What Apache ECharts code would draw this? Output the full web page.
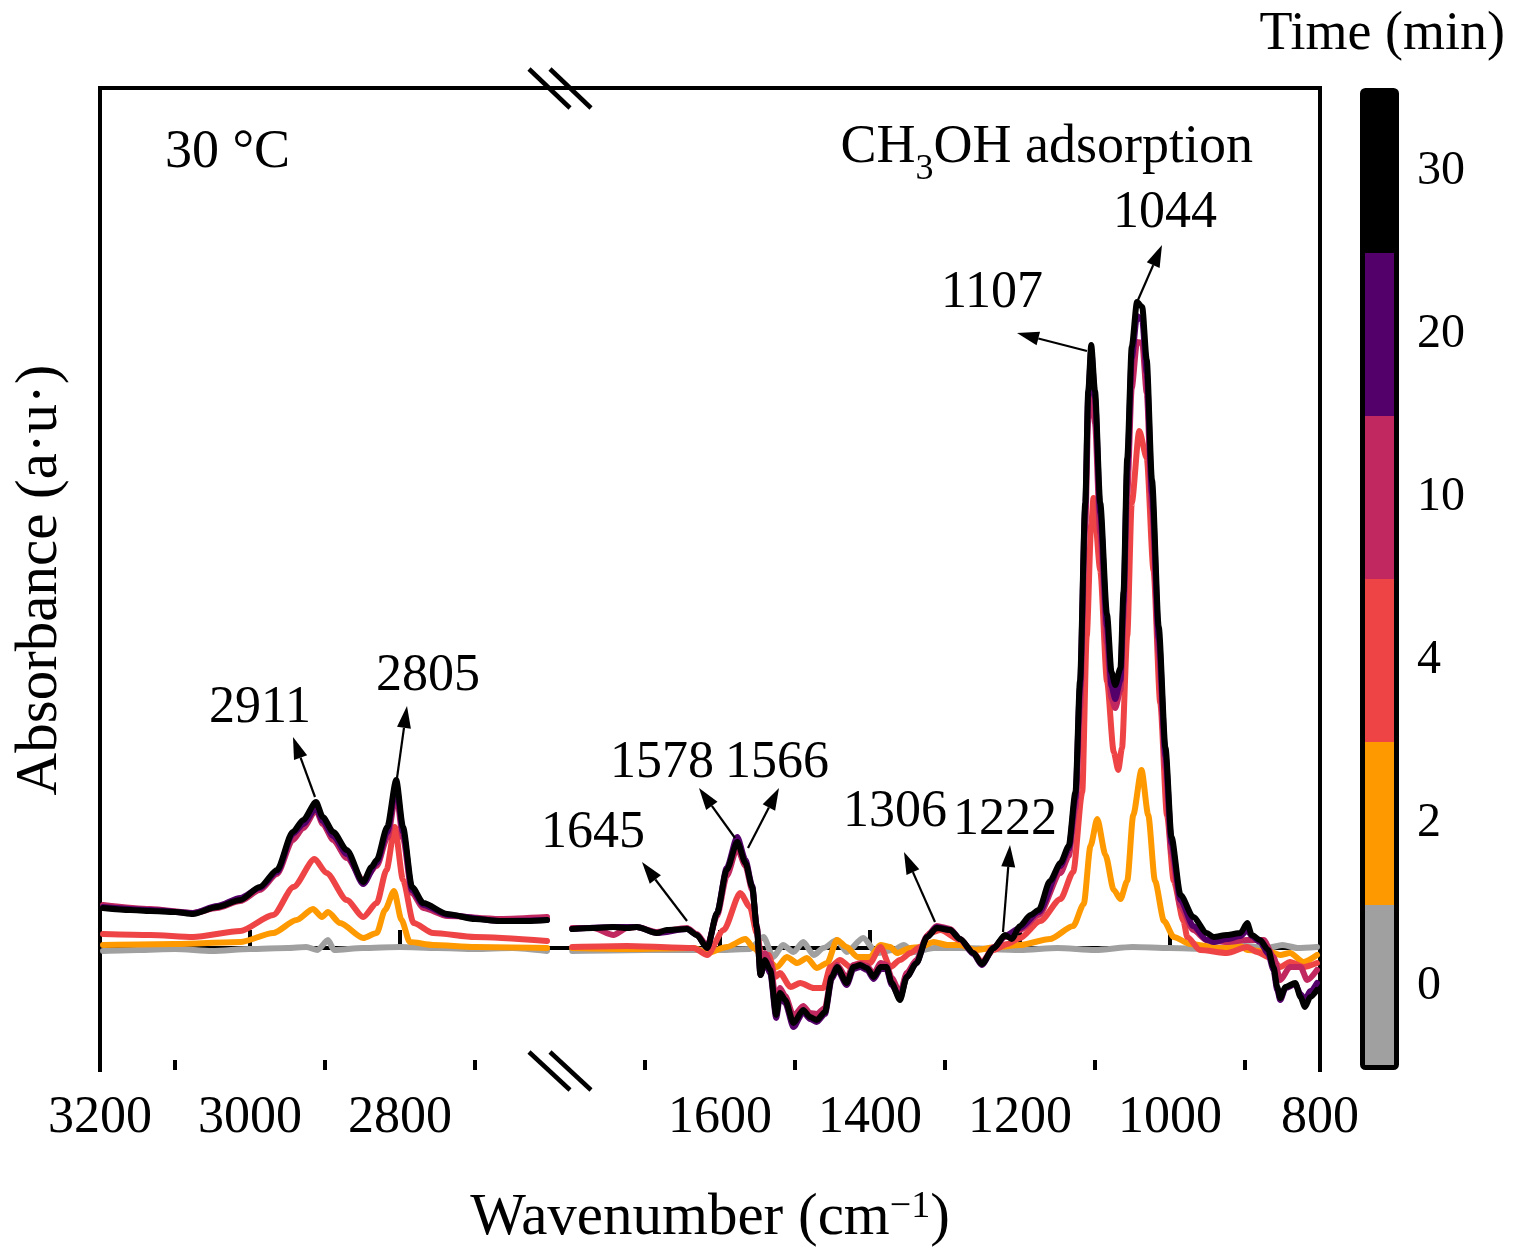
<!DOCTYPE html>
<html>
<head>
<meta charset="utf-8">
<script src="https://cdn.jsdelivr.net/npm/echarts@6/dist/echarts.min.js"></script>
<style>
  html, body { margin: 0; padding: 0; background: #fff; }
  #main { width: 1515px; height: 1257px; }
</style>
</head>
<body>
<div id="main"></div>
<script>
var chart = echarts.init(document.getElementById('main'));

// time steps (min) and their colours
var times = ['0', '2', '4', '10', '20', '30'];
var colors = ['#A0A0A0', '#FF9900', '#EE4446', '#C0285F', '#53006A', '#000000'];

// axis ticks
var leftMajor = [3200, 3000, 2800];
var leftMinor = [3100, 2900, 2700];
var rightMajor = [1600, 1400, 1200, 1000, 800];
var rightMinor = [1700, 1500, 1300, 1100, 900];

// spectra, high wavenumber part [cm-1, absorbance]
var hi0 = [[3196,-0.003],[3150,-0.002],[3100,-0.001],[3050,-0.003],[3000,-0.001],[2950,0],[2925,0.001],[2910,-0.002],[2896,0.008],[2888,-0.002],[2850,0],[2800,0.001],[2750,0],[2700,-0.001],[2650,0],[2604,-0.003]];
var hi2 = [[3196,0.003],[3100,0.004],[3013,0.006],[2969,0.015],[2938,0.028],[2916,0.039],[2904,0.031],[2896,0.036],[2880,0.025],[2849,0.010],[2831,0.015],[2820,0.038],[2808,0.057],[2798,0.028],[2787,0.006],[2756,0.003],[2700,0.001],[2604,0]];
var hi4 = [[3196,0.014],[3133,0.013],[3076,0.011],[3013,0.017],[2969,0.033],[2942,0.061],[2914,0.089],[2898,0.075],[2871,0.048],[2849,0.031],[2831,0.045],[2818,0.078],[2807,0.121],[2796,0.068],[2782,0.025],[2756,0.015],[2700,0.011],[2604,0.007]];
var hi10 = [[3196,0.043],[3133,0.039],[3076,0.035],[3044,0.040],[3013,0.047],[2987,0.058],[2964,0.074],[2943,0.108],[2929,0.120],[2912,0.138],[2903,0.124],[2889,0.108],[2871,0.090],[2849,0.068],[2831,0.082],[2817,0.110],[2805,0.155],[2796,0.110],[2784,0.055],[2769,0.040],[2737,0.032],[2667,0.029],[2604,0.031]];
var hi20 = [[3196,0.041],[3133,0.038],[3076,0.035],[3044,0.042],[3013,0.050],[2987,0.060],[2964,0.076],[2943,0.114],[2929,0.124],[2912,0.140],[2903,0.127],[2889,0.112],[2871,0.094],[2849,0.064],[2831,0.085],[2817,0.116],[2805,0.162],[2796,0.116],[2784,0.058],[2769,0.043],[2737,0.033],[2667,0.027],[2604,0.028]];
var hi30 = [[3196,0.040],[3160,0.038],[3133,0.037],[3100,0.036],[3076,0.034],[3044,0.041],[3013,0.048],[2987,0.061],[2964,0.078],[2943,0.116],[2929,0.128],[2912,0.146],[2903,0.131],[2889,0.116],[2871,0.098],[2849,0.066],[2838,0.081],[2831,0.088],[2817,0.121],[2805,0.168],[2796,0.121],[2784,0.061],[2769,0.045],[2737,0.034],[2700,0.029],[2667,0.027],[2630,0.027],[2604,0.028]];

// spectra, low wavenumber part [cm-1, absorbance]
var lo0 = [[1797,-0.003],[1700,-0.002],[1600,-0.002],[1560,-0.001],[1542,0.011],[1529,-0.009],[1516,0.003],[1502,-0.004],[1489,0.006],[1475,-0.007],[1462,0],[1444,0.008],[1431,-0.004],[1409,0.010],[1391,-0.005],[1369,-0.002],[1355,0.003],[1342,-0.004],[1315,0],[1280,0],[1200,-0.002],[1150,0],[1100,-0.002],[1050,0.001],[1000,0],[950,-0.001],[900,0.002],[870,0],[850,0.003],[830,0],[804,0.001]];
var lo2 = [[1797,0],[1724,-0.001],[1635,0],[1617,-0.005],[1591,0.001],[1566,0.009],[1555,0],[1542,-0.009],[1524,-0.019],[1511,-0.009],[1497,-0.015],[1484,-0.010],[1471,-0.020],[1457,-0.015],[1444,0.008],[1431,0.001],[1417,-0.009],[1400,-0.009],[1386,0.003],[1373,0.001],[1364,-0.005],[1346,0],[1333,0.001],[1315,0.006],[1297,0.003],[1280,0.003],[1260,-0.002],[1230,0.001],[1200,0.003],[1160,0.009],[1129,0.022],[1115,0.044],[1106,0.102],[1097,0.129],[1086,0.093],[1075,0.058],[1066,0.049],[1057,0.067],[1049,0.133],[1038,0.178],[1029,0.133],[1020,0.067],[1008,0.027],[995,0.011],[973,0.004],[933,0],[906,0.002],[897,-0.002],[866,-0.004],[853,-0.007],[840,-0.005],[822,-0.014],[804,-0.007]];
var lo4 = [[1797,0.001],[1724,0.002],[1635,0],[1617,-0.007],[1595,0.018],[1573,0.055],[1560,0.041],[1551,0.015],[1544,-0.012],[1535,-0.007],[1526,-0.029],[1520,-0.025],[1506,-0.039],[1493,-0.035],[1475,-0.040],[1462,-0.040],[1453,-0.019],[1440,-0.012],[1426,-0.019],[1413,-0.015],[1400,-0.015],[1386,0.001],[1373,-0.019],[1360,-0.012],[1346,-0.005],[1333,0.001],[1320,0.015],[1306,0.018],[1280,0.008],[1262,-0.005],[1251,-0.014],[1235,-0.002],[1217,0.004],[1200,0.010],[1173,0.027],[1146,0.049],[1129,0.076],[1117,0.156],[1111,0.312],[1105,0.423],[1102,0.450],[1093,0.378],[1084,0.267],[1075,0.196],[1069,0.178],[1064,0.200],[1057,0.312],[1051,0.445],[1041,0.517],[1031,0.490],[1022,0.378],[1013,0.245],[1004,0.133],[995,0.067],[982,0.027],[977,0.011],[960,-0.002],[924,-0.005],[897,0.001],[884,-0.004],[866,-0.010],[853,-0.019],[840,-0.014],[822,-0.019],[804,-0.015]];
var lo10 = [[1797,0.020],[1769,0.020],[1742,0.013],[1724,0.020],[1711,0.021],[1684,0.016],[1644,0.020],[1631,0.014],[1617,0.002],[1604,0.032],[1591,0.072],[1577,0.100],[1566,0.082],[1557,0.058],[1551,0.022],[1546,-0.018],[1540,-0.005],[1533,-0.015],[1525,-0.055],[1520,-0.040],[1513,-0.048],[1502,-0.068],[1489,-0.058],[1480,-0.065],[1471,-0.066],[1460,-0.060],[1451,-0.027],[1444,-0.017],[1431,-0.030],[1422,-0.017],[1413,-0.016],[1404,-0.018],[1395,-0.026],[1386,-0.015],[1378,-0.017],[1371,-0.030],[1360,-0.045],[1351,-0.025],[1338,-0.012],[1324,0.012],[1311,0.022],[1293,0.019],[1280,0.009],[1262,-0.005],[1251,-0.015],[1235,0.001],[1220,0.011],[1200,0.018],[1175,0.033],[1146,0.075],[1135,0.092],[1126,0.140],[1120,0.240],[1113,0.420],[1109,0.530],[1105,0.570],[1100,0.525],[1093,0.415],[1084,0.305],[1078,0.250],[1073,0.240],[1066,0.258],[1062,0.330],[1057,0.455],[1051,0.560],[1044,0.606],[1037,0.605],[1031,0.555],[1024,0.440],[1015,0.295],[1006,0.180],[998,0.095],[986,0.042],[969,0.018],[951,0.008],[924,0.006],[897,0.008],[875,0.008],[862,-0.009],[853,-0.032],[840,-0.019],[826,-0.019],[817,-0.032],[804,-0.022]];
var lo20 = [[1797,0.019],[1742,0.021],[1711,0.021],[1684,0.015],[1644,0.019],[1631,0.013],[1617,0],[1604,0.035],[1591,0.080],[1577,0.111],[1566,0.088],[1557,0.062],[1551,0.021],[1546,-0.027],[1540,-0.014],[1533,-0.025],[1525,-0.070],[1520,-0.048],[1513,-0.055],[1502,-0.079],[1489,-0.064],[1480,-0.071],[1471,-0.074],[1460,-0.066],[1451,-0.031],[1444,-0.021],[1431,-0.037],[1422,-0.021],[1413,-0.019],[1404,-0.022],[1395,-0.031],[1386,-0.021],[1378,-0.021],[1371,-0.037],[1360,-0.050],[1351,-0.029],[1338,-0.015],[1324,0.011],[1311,0.021],[1293,0.018],[1280,0.009],[1262,-0.006],[1251,-0.017],[1235,0],[1220,0.012],[1200,0.020],[1175,0.036],[1146,0.082],[1135,0.099],[1126,0.150],[1120,0.260],[1113,0.440],[1109,0.552],[1105,0.598],[1100,0.550],[1093,0.435],[1084,0.322],[1078,0.262],[1073,0.249],[1066,0.268],[1062,0.345],[1057,0.478],[1051,0.590],[1044,0.632],[1037,0.628],[1031,0.575],[1024,0.455],[1015,0.310],[1006,0.192],[998,0.105],[986,0.048],[969,0.022],[951,0.008],[942,0.006],[924,0.009],[906,0.012],[897,0.018],[891,0.012],[880,0.006],[869,-0.006],[862,-0.022],[857,-0.042],[853,-0.052],[846,-0.040],[833,-0.036],[826,-0.046],[820,-0.052],[813,-0.043],[804,-0.035]];
var lo30 = [[1797,0.019],[1769,0.020],[1742,0.021],[1724,0.020],[1711,0.021],[1684,0.015],[1671,0.018],[1644,0.019],[1631,0.013],[1617,0],[1604,0.035],[1591,0.078],[1577,0.106],[1566,0.085],[1557,0.061],[1551,0.021],[1546,-0.027],[1540,-0.012],[1533,-0.022],[1525,-0.067],[1520,-0.045],[1513,-0.052],[1502,-0.075],[1489,-0.062],[1480,-0.069],[1471,-0.072],[1460,-0.064],[1451,-0.029],[1444,-0.019],[1431,-0.035],[1422,-0.019],[1413,-0.017],[1404,-0.020],[1395,-0.029],[1386,-0.019],[1378,-0.019],[1371,-0.035],[1360,-0.052],[1351,-0.029],[1338,-0.015],[1324,0.011],[1311,0.020],[1293,0.018],[1280,0.009],[1262,-0.005],[1251,-0.016],[1235,0],[1220,0.013],[1211,0.009],[1200,0.022],[1186,0.033],[1175,0.038],[1160,0.067],[1146,0.085],[1135,0.102],[1126,0.156],[1120,0.267],[1113,0.445],[1109,0.557],[1105,0.603],[1100,0.557],[1093,0.445],[1084,0.334],[1078,0.276],[1073,0.263],[1066,0.280],[1062,0.356],[1057,0.490],[1051,0.601],[1044,0.646],[1037,0.641],[1031,0.588],[1024,0.468],[1015,0.321],[1006,0.200],[998,0.111],[986,0.053],[969,0.031],[951,0.015],[942,0.011],[924,0.013],[906,0.015],[897,0.025],[891,0.013],[880,0.008],[869,-0.002],[862,-0.019],[857,-0.039],[853,-0.050],[846,-0.039],[833,-0.035],[826,-0.049],[820,-0.059],[813,-0.049],[804,-0.042]];

var hiSets = [hi0, hi2, hi4, hi10, hi20, hi30];
var loSets = [lo0, lo2, lo4, lo10, lo20, lo30];

// peak labels: [text, text x, text y, arrow from x, from y, arrow tip x, tip y]
var peakNotes = [
  ['2911', 260, 708, 315, 797, 293, 737],
  ['2805', 428, 676, 397, 778, 407, 706],
  ['1645', 593, 833, 687, 921, 642, 862],
  ['1578', 662, 763, 735, 838, 699, 788],
  ['1566', 777, 763, 748, 848, 779, 788],
  ['1306', 895, 812, 935, 922, 904, 852],
  ['1222', 1005, 820, 1003, 932, 1010, 845],
  ['1107', 992, 293, 1087, 351, 1017, 333],
  ['1044', 1165, 213, 1138, 300, 1162, 245]
];

var FONT = 'Liberation Serif';
var Y_MIN = -0.122, Y_MAX = 0.86;

function arrow(x1, y1, x2, y2) {
  var a = Math.atan2(y2 - y1, x2 - x1), L = 22, W = 7;
  var bx = x2 - L * Math.cos(a), by = y2 - L * Math.sin(a);
  return [
    {type: 'line', z: 50, shape: {x1: x1, y1: y1, x2: bx, y2: by}, style: {stroke: '#000', lineWidth: 2.2}},
    {type: 'polygon', z: 50, shape: {points: [[x2, y2], [bx + W * Math.sin(a), by - W * Math.cos(a)], [bx - W * Math.sin(a), by + W * Math.cos(a)]]}, style: {fill: '#000'}}
  ];
}

var frameLine = {show: true, lineStyle: {color: '#000', width: 4, cap: 'square'}};

function bottomAxis(grid, min, max, ticks, len, labels) {
  return {
    type: 'value', gridIndex: grid, position: 'bottom', inverse: true, min: min, max: max,
    splitLine: {show: false},
    axisLine: labels ? frameLine : {show: false},
    axisTick: {show: true, inside: true, length: len, customValues: ticks, lineStyle: {color: '#000', width: 4}},
    axisLabel: labels ? {show: true, customValues: labels, margin: 22, color: '#000', fontSize: 52, fontFamily: FONT,
      formatter: function (v) { return String(v); }} : {show: false}
  };
}
function topAxis(grid, min, max) {
  return {type: 'value', gridIndex: grid, position: 'top', inverse: true, min: min, max: max,
    splitLine: {show: false}, axisLine: frameLine, axisTick: {show: false}, axisLabel: {show: false}};
}

var series = [];
for (var i = 0; i < times.length; i++) {
  var base = {type: 'line', name: times[i] + ' min', showSymbol: false, smooth: 0.25, smoothMonotone: 'x',
    z: 10 + i, lineStyle: {color: colors[i], width: 6, join: 'round', cap: 'round'}, itemStyle: {color: colors[i]}};
  series.push(Object.assign({}, base, {xAxisIndex: 0, yAxisIndex: 0, data: hiSets[i]}));
  series.push(Object.assign({}, base, {xAxisIndex: 3, yAxisIndex: 1, data: loSets[i]}));
}
series.push({
  type: 'bar', xAxisIndex: 6, yAxisIndex: 2, barWidth: '100%', barCategoryGap: '0%', silent: true,
  data: times.map(function (t, i) { return {value: 1, itemStyle: {color: colors[i]}}; })
});

var graphics = [];
// axis break marks
[[69, 108], [1052, 1090]].forEach(function (yy) {
  graphics.push({type: 'line', z: 60, shape: {x1: 529, y1: yy[0], x2: 570, y2: yy[1]}, style: {stroke: '#000', lineWidth: 4.5}});
  graphics.push({type: 'line', z: 60, shape: {x1: 550, y1: yy[0], x2: 591, y2: yy[1]}, style: {stroke: '#000', lineWidth: 4.5}});
});
peakNotes.forEach(function (p) {
  graphics.push({type: 'text', z: 50, x: p[1], y: p[2], style: {text: p[0], font: '52px "' + FONT + '"', fill: '#000', align: 'center', verticalAlign: 'middle'}});
  arrow(p[3], p[4], p[5], p[6]).forEach(function (g) { graphics.push(g); });
});
graphics.push({type: 'text', z: 50, x: 165, y: 153, style: {text: '30 °C', font: '54px "' + FONT + '"', fill: '#000', align: 'left', verticalAlign: 'middle'}});
graphics.push({type: 'text', z: 50, x: 1253, y: 148, style: {
  text: 'CH{sub|3}OH adsorption', font: '54px "' + FONT + '"', fill: '#000', align: 'right', verticalAlign: 'middle',
  rich: {sub: {fontSize: 36, fontFamily: FONT, verticalAlign: 'bottom', lineHeight: 80, fill: '#000'}}}});
graphics.push({type: 'text', z: 50, x: 710, y: 1218, style: {
  text: 'Wavenumber (cm{sup|−1})', font: '59px "' + FONT + '"', fill: '#000', align: 'center', verticalAlign: 'middle',
  rich: {sup: {fontSize: 38, fontFamily: FONT, verticalAlign: 'top', lineHeight: 38, fill: '#000'}}}});
graphics.push({type: 'text', z: 50, x: 40, y: 580, rotation: Math.PI / 2, style: {
  text: 'Absorbance (a·u·)', font: '59px "' + FONT + '"', fill: '#000', align: 'center', verticalAlign: 'middle'}});
graphics.push({type: 'text', z: 50, x: 1505, y: 35, style: {text: 'Time (min)', font: '54px "' + FONT + '"', fill: '#000', align: 'right', verticalAlign: 'middle'}});
// colour bar frame
graphics.push({type: 'rect', z: 60, shape: {x: 1362.5, y: 90.5, width: 34, height: 977, r: 3}, style: {fill: 'none', stroke: '#000', lineWidth: 5}});

var option = {
  animation: false,
  backgroundColor: '#fff',
  grid: [
    {left: 100, top: 88, width: 460, height: 982, outerBoundsMode: 'none'},
    {left: 560, top: 88, width: 760, height: 982, outerBoundsMode: 'none'},
    {left: 1362, top: 90, width: 35, height: 978, outerBoundsMode: 'none'}
  ],
  xAxis: [
    bottomAxis(0, 2586.7, 3200, leftMajor, 18, leftMajor),
    bottomAxis(0, 2586.7, 3200, leftMinor, 10, null),
    topAxis(0, 2586.7, 3200),
    bottomAxis(1, 800, 1813.3, rightMajor, 18, rightMajor),
    bottomAxis(1, 800, 1813.3, rightMinor, 10, null),
    topAxis(1, 800, 1813.3),
    {type: 'value', gridIndex: 2, min: 0, max: 1, show: false}
  ],
  yAxis: [
    {type: 'value', gridIndex: 0, position: 'left', min: Y_MIN, max: Y_MAX, splitLine: {show: false},
      axisLine: frameLine, axisTick: {show: false}, axisLabel: {show: false}},
    {type: 'value', gridIndex: 1, position: 'right', min: Y_MIN, max: Y_MAX, splitLine: {show: false},
      axisLine: frameLine, axisTick: {show: false}, axisLabel: {show: false}},
    {type: 'category', gridIndex: 2, position: 'right', data: times, inverse: false,
      axisLine: {show: false},
      axisTick: {show: true, alignWithLabel: true, length: 13, lineStyle: {color: '#000', width: 4}},
      axisLabel: {show: true, margin: 20, color: '#000', fontSize: 48, fontFamily: FONT},
      splitLine: {show: false}}
  ],
  series: series,
  graphic: graphics
};

chart.setOption(option);
</script>
</body>
</html>
